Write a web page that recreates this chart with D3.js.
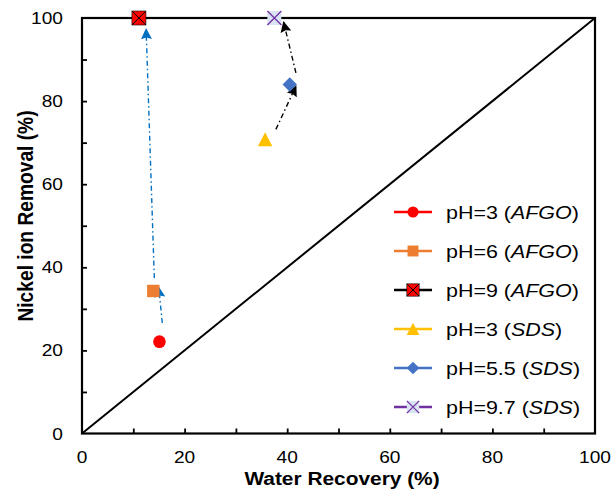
<!DOCTYPE html>
<html>
<head>
<meta charset="utf-8">
<script src="https://cdn.jsdelivr.net/npm/d3@7"></script>
<style>
  html, body { margin: 0; padding: 0; background: #fff; }
  svg { display: block; font-family: Arial, "Liberation Sans", sans-serif; }
</style>
</head>
<body>
<svg id="chart" width="613" height="495"></svg>
<script>
// ---------- data ----------
const seriesPH       = ["pH=3", "pH=6", "pH=9", "pH=3", "pH=5.5", "pH=9.7"];
const seriesAgent    = ["AFGO", "AFGO", "AFGO", "SDS", "SDS", "SDS"];
const waterRecovery  = [15.1, 13.9, 11.1, 35.7, 40.5, 37.5];
const nickelRemoval  = [22.1, 34.3, 100, 70.8, 84.0, 100];
const seriesColors   = ["#FF0000", "#ED7D31", "#000000", "#FFC000", "#4472C4", "#7030A0"];
const seriesMarkers  = ["circle", "square", "squareX", "triangle", "diamond", "cross"];

const arrowGroup = ["AFGO", "AFGO", "SDS", "SDS"];
const arrowFromX = [15.65, 14.1, 37.8, 41.7];
const arrowFromY = [26.6, 37.4, 73.2, 86.8];
const arrowToX   = [14.95, 12.5, 41.7, 39.3];
const arrowToY   = [35.2, 97.3, 83.6, 99.0];
const arrowColor = { AFGO: "#0070C0", SDS: "#000000" };

const xTicks = [0, 20, 40, 60, 80, 100];
const yTicks = [0, 20, 40, 60, 80, 100];
const minorTicks = [10, 20, 30, 40, 50, 60, 70, 80, 90];
const xTitle = "Water Recovery (%)";
const yTitle = "Nickel ion Removal (%)";

// ---------- setup ----------
const svg = d3.select("#chart");
const L = 82, R = 595, T = 18, B = 433.5;
const x = d3.scaleLinear().domain([0, 100]).range([L, R]);
const y = d3.scaleLinear().domain([0, 100]).range([B, T]);
const SX = 1.16; // horizontal text stretch

// diagonal
svg.append("line")
  .attr("x1", x(0)).attr("y1", y(0)).attr("x2", x(100)).attr("y2", y(100))
  .attr("stroke", "#000").attr("stroke-width", 2);

// axes box
svg.append("rect")
  .attr("x", L).attr("y", T).attr("width", R - L).attr("height", B - T)
  .attr("fill", "none").attr("stroke", "#000").attr("stroke-width", 2.2);

// inward ticks
const xAxis = d3.axisTop(x).tickValues(minorTicks).tickSize(5).tickFormat("");
const gx = svg.append("g").attr("transform", `translate(0,${B})`).call(xAxis);
gx.select(".domain").remove();
gx.selectAll("line").attr("stroke", "#000").attr("stroke-width", 1.8);
const yAxis = d3.axisRight(y).tickValues(minorTicks).tickSize(5).tickFormat("");
const gy = svg.append("g").attr("transform", `translate(${L},0)`).call(yAxis);
gy.select(".domain").remove();
gy.selectAll("line").attr("stroke", "#000").attr("stroke-width", 1.8);

// tick labels
svg.selectAll(".xl").data(xTicks).enter().append("text")
  .attr("transform", d => `translate(${x(d)},463) scale(${SX},1)`)
  .attr("text-anchor", "middle").attr("font-size", 16.5).attr("fill", "#000")
  .text(d => d);
svg.selectAll(".yl").data(yTicks).enter().append("text")
  .attr("transform", d => `translate(63,${y(d) + 6}) scale(${SX},1)`)
  .attr("text-anchor", "end").attr("font-size", 16.5).attr("fill", "#000")
  .text(d => d);

// axis titles
svg.append("text")
  .attr("transform", `translate(342,485) scale(${SX},1)`)
  .attr("text-anchor", "middle").attr("font-size", 18).attr("font-weight", "bold")
  .text(xTitle);
svg.append("text")
  .attr("transform", `translate(33,216) scale(${SX},1) rotate(-90)`)
  .attr("text-anchor", "middle").attr("font-size", 19.2).attr("font-weight", "bold")
  .text(yTitle);

// arrow markers
const defs = svg.append("defs");
Object.entries(arrowColor).forEach(([k, c]) => {
  defs.append("marker")
    .attr("id", "arr-" + k)
    .attr("viewBox", "0 0 10 10").attr("refX", 9).attr("refY", 5)
    .attr("markerWidth", 11).attr("markerHeight", 11)
    .attr("markerUnits", "userSpaceOnUse")
    .attr("orient", "auto")
    .append("path").attr("d", "M0,0 L10,5 L0,10 L1.5,5 Z").attr("fill", c);
});

// arrows
svg.selectAll(".arrow").data(arrowGroup).enter().append("line")
  .attr("x1", (d, i) => x(arrowFromX[i])).attr("y1", (d, i) => y(arrowFromY[i]))
  .attr("x2", (d, i) => x(arrowToX[i])).attr("y2", (d, i) => y(arrowToY[i]))
  .attr("stroke", d => arrowColor[d]).attr("stroke-width", 1.4)
  .attr("stroke-dasharray", "5,3,1.5,3")
  .attr("marker-end", d => `url(#arr-${d})`);

// marker drawing
function drawMarker(g, type, color, cx, cy, s) {
  if (type === "circle") {
    g.append("circle").attr("cx", cx).attr("cy", cy).attr("r", 6.3 * s).attr("fill", color);
  } else if (type === "square") {
    const h = 6.2 * s;
    g.append("rect").attr("x", cx - h).attr("y", cy - h).attr("width", 2 * h).attr("height", 2 * h).attr("fill", color);
  } else if (type === "squareX") {
    const h = 7 * s;
    g.append("rect").attr("x", cx - h).attr("y", cy - h).attr("width", 2 * h).attr("height", 2 * h)
      .attr("fill", "#FF0000").attr("stroke", "#000").attr("stroke-width", 0.6);
    g.append("path").attr("d", `M${cx - h},${cy - h}L${cx + h},${cy + h}M${cx - h},${cy + h}L${cx + h},${cy - h}`)
      .attr("stroke", "#000").attr("stroke-width", 1);
  } else if (type === "triangle") {
    const h = 7.2 * s;
    g.append("path").attr("d", `M${cx},${cy - h}L${cx + h},${cy + h * 0.95}L${cx - h},${cy + h * 0.95}Z`).attr("fill", color);
  } else if (type === "diamond") {
    const h = 7.2 * s;
    g.append("path").attr("d", `M${cx},${cy - h}L${cx + h},${cy}L${cx},${cy + h}L${cx - h},${cy}Z`).attr("fill", color);
  } else if (type === "cross") {
    const h = 7 * s;
    g.append("rect").attr("x", cx - h).attr("y", cy - h).attr("width", 2 * h).attr("height", 2 * h).attr("fill", "#DAE3F3");
    g.append("path").attr("d", `M${cx - h},${cy - h}L${cx + h},${cy + h}M${cx - h},${cy + h}L${cx + h},${cy - h}`)
      .attr("stroke", color).attr("stroke-width", 1.3);
  }
}

// data points
const pts = svg.append("g");
waterRecovery.forEach((v, i) => {
  drawMarker(pts, seriesMarkers[i], seriesColors[i], x(v), y(nickelRemoval[i]), 1);
});

// legend
const legY0 = 212, legStep = 39;
const leg = svg.append("g");
seriesPH.forEach((p, i) => {
  const ly = legY0 + i * legStep;
  leg.append("line").attr("x1", 394).attr("x2", 432).attr("y1", ly).attr("y2", ly)
    .attr("stroke", seriesColors[i]).attr("stroke-width", 2.6);
  drawMarker(leg, seriesMarkers[i], seriesColors[i], 413, ly, 0.88);
  const t = leg.append("text")
    .attr("transform", `translate(446,${ly + 6.5}) scale(${SX},1)`)
    .attr("font-size", 18.5).attr("fill", "#000");
  t.append("tspan").text(p + " (");
  t.append("tspan").attr("font-style", "italic").text(seriesAgent[i]);
  t.append("tspan").text(")");
});
</script>
</body>
</html>
